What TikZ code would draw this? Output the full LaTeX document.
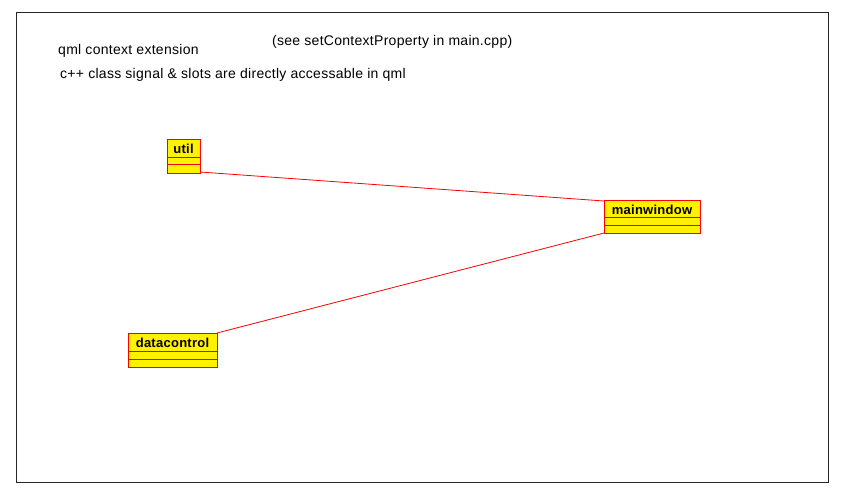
\documentclass[tikz,border=0pt]{standalone}
\usepackage{fontspec}
\setmainfont{Liberation Sans}
\newfontfamily\lblfont[LetterSpace=2]{Liberation Sans}
\newfontfamily\boxfont[LetterSpace=2]{Liberation Sans}
\begin{document}
\begin{tikzpicture}[x=1pt,y=-1pt,
  umlbox/.style={draw=red,fill=yellow,line width=1pt},
  sep/.style={draw=red,line width=1pt},
  assoc/.style={draw=red,line width=0.8pt},
  lbl/.style={anchor=base west,inner sep=0pt,font=\lblfont\fontsize{14}{16}\selectfont},
  cname/.style={anchor=base,inner sep=0pt,font=\boxfont\fontsize{13}{15}\selectfont\bfseries}]
\useasboundingbox (0,0) rectangle (854,501);
\draw[line width=1pt,black!85] (16,12) rectangle (828,482);
\node[lbl] (t1) at (58,54) {qml context extension};
\node[lbl] (t2) at (60,78) {c++ class signal \& slots are directly accessable in qml};
\node[lbl] (t3) at (272,45) {(see setContextProperty in main.cpp)};
% util
\path[umlbox] (167,139) rectangle (200,173);
\draw[sep] (167,157) -- (200,157);
\draw[sep] (167,164) -- (200,164);
\node[cname] (utiln) at (183.5,153.5) {util};
\coordinate (utilE) at (200,172);
% mainwindow
\path[umlbox] (604,200) rectangle (700,233);
\draw[sep] (604,217) -- (700,217);
\draw[sep] (604,225) -- (700,225);
\node[cname] (mwn) at (652,214.5) {mainwindow};
\coordinate (mwA) at (604,201);
\coordinate (mwB) at (604,233);
% datacontrol
\path[umlbox] (128,333) rectangle (217,367);
\draw[sep] (128,351) -- (217,351);
\draw[sep] (128,359) -- (217,359);
\node[cname] (dcn) at (172.5,347) {datacontrol};
\coordinate (dcE) at (217,333);
\draw[assoc] (utilE) -- (mwA);
\draw[assoc] (dcE) -- (mwB);
\end{tikzpicture}
\end{document}
